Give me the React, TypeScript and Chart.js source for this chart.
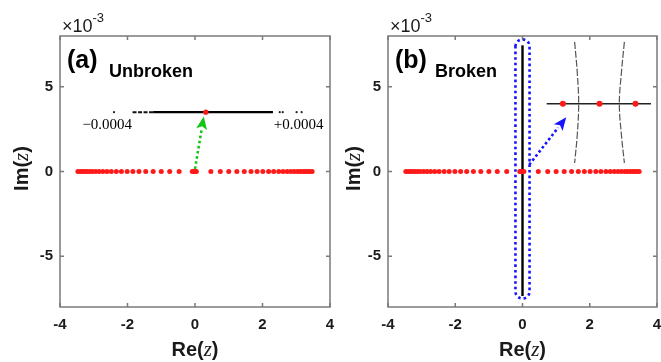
import React, { useEffect, useRef } from 'react';
import { Chart, registerables } from 'chart.js';
Chart.register(...registerables);

// ---------------- data ----------------
const xMin = -4, xMax = 4, xStep = 2;
const yMin = -8, yMax = 8, yStep = 5;

// eigenvalues on the real axis (same in both panels)
const realEigRe = [
  -3.47, -3.40, -3.34, -3.27, -3.20, -3.12, -3.04, -2.94, -2.84, -2.73, -2.61,
  -2.48, -2.33, -2.18, -2.01, -1.84, -1.66, -1.46, -1.24, -1.00, -0.75, -0.47,
  -0.08, -0.04, 0.00, 0.04,
  0.47, 0.75, 1.00, 1.24, 1.46, 1.66, 1.84, 2.01, 2.18, 2.33, 2.48, 2.61,
  2.73, 2.84, 2.94, 3.04, 3.12, 3.20, 3.27, 3.34, 3.40, 3.47,
];
const realEigIm = 0;

// panel (a) inset (zoom of the cluster at 0)
const insetAIm = 3.5;
const insetASolidRe = [-1.24, 2.31];
const insetADashRe = [-1.85, -1.24];
const insetAStrayRe = [-2.40, 2.51, 2.60, 3.01, 3.16];
const insetAMarkerRe = [0.32];
const insetALabels = ['\u22120.0004', '+0.0004'];
const insetALabelRe = [-2.6, 3.07];
const insetALabelIm = 2.72;
const arrowA = { from: [0.0, 0.15], to: [0.26, 3.25] };

// panel (b)
const brokenLineRe = [0, 0];
const brokenLineIm = [-7.35, 7.45];
const insetBIm = 4.0;
const insetBLineRe = [0.72, 3.82];
const insetBMarkerRe = [1.2, 2.29, 3.36];
const curveIm = [7.65, 5.8, 4.0, 2.2, 0.5];
const curveLeftRe = [1.55, 1.63, 1.67, 1.63, 1.55];
const curveRightRe = [3.03, 2.94, 2.88, 2.94, 3.03];
const boxRe = [-0.21, 0.21];
const boxIm = [-7.5, 7.8];
const arrowB = { from: [0.2, 0.4], to: [1.3, 3.2] };

// ---------------- helpers ----------------
const SANS = "'Liberation Sans', Arial, sans-serif";
const SERIF = "'Liberation Serif', 'Times New Roman', serif";
const TEXT = '#1a1a1a';
const FRAME = '#7a7a7a';
const RED = '#ff1a1a';

type Part = { t: string; f: string };

function drawParts(ctx: CanvasRenderingContext2D, parts: Part[], x: number, y: number, align: 'left' | 'center') {
  let total = 0;
  for (const p of parts) { ctx.font = p.f; total += ctx.measureText(p.t).width; }
  let cx = align === 'center' ? x - total / 2 : x;
  ctx.textAlign = 'left';
  for (const p of parts) {
    ctx.font = p.f;
    ctx.fillText(p.t, cx, y);
    cx += ctx.measureText(p.t).width;
  }
}

function arrow(ctx: CanvasRenderingContext2D, x0: number, y0: number, x1: number, y1: number, color: string) {
  const ang = Math.atan2(y1 - y0, x1 - x0);
  const headLen = 13, headW = 5.5;
  const bx = x1 - headLen * Math.cos(ang), by = y1 - headLen * Math.sin(ang);
  ctx.save();
  ctx.strokeStyle = color;
  ctx.lineWidth = 2.6;
  ctx.setLineDash([2.6, 2.6]);
  ctx.beginPath();
  ctx.moveTo(x0, y0);
  ctx.lineTo(bx, by);
  ctx.stroke();
  ctx.setLineDash([]);
  ctx.fillStyle = color;
  ctx.beginPath();
  ctx.moveTo(x1, y1);
  ctx.lineTo(bx + headW * Math.sin(ang), by - headW * Math.cos(ang));
  ctx.lineTo(bx + 3 * Math.cos(ang), by + 3 * Math.sin(ang));
  ctx.lineTo(bx - headW * Math.sin(ang), by + headW * Math.cos(ang));
  ctx.closePath();
  ctx.fill();
  ctx.restore();
}

type PanelCfg = {
  label: string;
  title: string;
  yTitleX: number;
  kind: 'a' | 'b';
};

function makePlugin(cfg: PanelCfg) {
  return {
    id: 'panelDecor' + cfg.kind,
    afterDatasetsDraw(chart: any) {
      const ctx: CanvasRenderingContext2D = chart.ctx;
      const xs = chart.scales.x, ys = chart.scales.y;
      const px = (v: number) => xs.getPixelForValue(v);
      const py = (v: number) => ys.getPixelForValue(v);
      ctx.save();
      if (cfg.kind === 'a') {
        ctx.fillStyle = '#000';
        ctx.font = `15px ${SERIF}`;
        ctx.textAlign = 'center';
        ctx.textBaseline = 'middle';
        insetALabels.forEach((s, i) => ctx.fillText(s, px(insetALabelRe[i]), py(insetALabelIm)));
        arrow(ctx, px(arrowA.from[0]), py(arrowA.from[1]), px(arrowA.to[0]), py(arrowA.to[1]), '#16c416');
      } else {
        // blue dotted rounded box
        const l = px(boxRe[0]), r = px(boxRe[1]);
        const t = py(boxIm[1]), b = py(boxIm[0]);
        const rad = (r - l) / 2;
        ctx.strokeStyle = '#1414ff';
        ctx.lineWidth = 2.6;
        ctx.setLineDash([2.6, 3]);
        ctx.beginPath();
        ctx.moveTo(l, t + rad);
        ctx.arc(l + rad, t + rad, rad, Math.PI, 0);
        ctx.lineTo(r, b - rad);
        ctx.arc(l + rad, b - rad, rad, 0, Math.PI);
        ctx.closePath();
        ctx.stroke();
        ctx.setLineDash([]);
        arrow(ctx, px(arrowB.from[0]), py(arrowB.from[1]), px(arrowB.to[0]), py(arrowB.to[1]), '#1414ff');
      }
      ctx.restore();
    },
    afterDraw(chart: any) {
      const ctx: CanvasRenderingContext2D = chart.ctx;
      const { left, right, top, bottom } = chart.chartArea;
      const xs = chart.scales.x, ys = chart.scales.y;
      ctx.save();
      ctx.strokeStyle = FRAME;
      ctx.lineWidth = 1.5;
      ctx.strokeRect(left, top, right - left, bottom - top);
      ctx.beginPath();
      xs.ticks.forEach((tk: any) => {
        const x = xs.getPixelForValue(tk.value);
        ctx.moveTo(x, bottom); ctx.lineTo(x, bottom - 4);
        ctx.moveTo(x, top); ctx.lineTo(x, top + 4);
      });
      ys.ticks.forEach((tk: any) => {
        const y = ys.getPixelForValue(tk.value);
        ctx.moveTo(left, y); ctx.lineTo(left + 4, y);
        ctx.moveTo(right, y); ctx.lineTo(right - 4, y);
      });
      ctx.stroke();

      ctx.fillStyle = TEXT;
      ctx.textBaseline = 'alphabetic';
      // exponent label
      ctx.textAlign = 'left';
      ctx.font = `18px ${SANS}`;
      ctx.fillText('\u00d710', left + 2, top - 4);
      const w = ctx.measureText('\u00d710').width;
      ctx.font = `13px ${SANS}`;
      ctx.fillText('-3', left + 2 + w, top - 14);

      // panel labels
      ctx.fillStyle = '#000';
      ctx.font = `bold 25px ${SANS}`;
      ctx.fillText(cfg.label, left + 7, top + 32);
      ctx.font = `bold 18px ${SANS}`;
      ctx.fillText(cfg.title, left + (cfg.kind === 'a' ? 49 : 47), top + 41);

      // axis titles
      ctx.fillStyle = TEXT;
      const cxp = (left + right) / 2;
      drawParts(ctx, [
        { t: 'Re(', f: `bold 20px ${SANS}` },
        { t: 'z', f: `italic 21px ${SERIF}` },
        { t: ')', f: `bold 20px ${SANS}` },
      ], cxp, 356, 'center');
      ctx.save();
      ctx.translate(cfg.yTitleX, (top + bottom) / 2 - 3);
      ctx.rotate(-Math.PI / 2);
      ctx.textBaseline = 'middle';
      drawParts(ctx, [
        { t: 'Im(', f: `bold 20px ${SANS}` },
        { t: 'z', f: `italic 21px ${SERIF}` },
        { t: ')', f: `bold 20px ${SANS}` },
      ], 0, 0, 'center');
      ctx.restore();
      ctx.restore();
    },
  };
}

function pts(xsArr: number[], yv: number | number[]) {
  return xsArr.map((x, i) => ({ x, y: Array.isArray(yv) ? yv[i] : yv }));
}

function buildDatasets(kind: 'a' | 'b') {
  const red = {
    data: pts(realEigRe, realEigIm),
    pointRadius: 2.5, pointBackgroundColor: RED, pointBorderWidth: 0, showLine: false, order: 0,
  };
  if (kind === 'a') {
    return [
      red,
      { data: pts(insetAMarkerRe, insetAIm), pointRadius: 2.6, pointBackgroundColor: RED, pointBorderWidth: 0, showLine: false, order: 1 },
      { data: pts(insetASolidRe, insetAIm), showLine: true, borderColor: '#000', borderWidth: 2.2, pointRadius: 0, order: 2 },
      { data: pts(insetADashRe, insetAIm), showLine: true, borderColor: '#111', borderWidth: 2, borderDash: [4, 1.5], pointRadius: 0, order: 3 },
      { data: pts(insetAStrayRe, insetAIm), showLine: false, pointRadius: 1.1, pointBackgroundColor: '#222', pointBorderWidth: 0, order: 4 },
    ];
  }
  return [
    red,
    { data: pts(insetBMarkerRe, insetBIm), pointRadius: 3, pointBackgroundColor: RED, pointBorderWidth: 0, showLine: false, order: 1 },
    { data: pts(insetBLineRe, insetBIm), showLine: true, borderColor: '#222', borderWidth: 1.5, pointRadius: 0, order: 2 },
    { data: pts(curveLeftRe, curveIm), showLine: true, borderColor: '#555', borderWidth: 1.2, borderDash: [7, 2], tension: 0.4, pointRadius: 0, order: 3 },
    { data: pts(curveRightRe, curveIm), showLine: true, borderColor: '#555', borderWidth: 1.2, borderDash: [7, 2], tension: 0.4, pointRadius: 0, order: 3 },
    { data: pts(brokenLineRe, brokenLineIm), showLine: true, borderColor: '#000', borderWidth: 2.4, pointRadius: 0, order: 5 },
  ];
}

function makeConfig(kind: 'a' | 'b', yAxisWidth: number, rightPad: number, cfg: PanelCfg) {
  const tickFont = { family: SANS, size: 15, weight: 'bold' as const };
  return {
    type: 'scatter' as const,
    data: { datasets: buildDatasets(kind) as any },
    options: {
      animation: false as const,
      responsive: false,
      maintainAspectRatio: false,
      events: [] as any,
      layout: { padding: { left: 0, right: rightPad, top: 36, bottom: 0 } },
      plugins: { legend: { display: false }, tooltip: { enabled: false } },
      scales: {
        x: {
          type: 'linear' as const, min: xMin, max: xMax,
          ticks: { stepSize: xStep, includeBounds: false, font: tickFont, color: TEXT, padding: 9, maxRotation: 0, autoSkip: false },
          grid: { display: false, drawTicks: false },
          border: { display: false },
          afterFit: (s: any) => { s.height = 55; s.paddingLeft = 0; s.paddingRight = 0; },
        },
        y: {
          type: 'linear' as const, min: yMin, max: yMax,
          ticks: { stepSize: yStep, includeBounds: false, font: tickFont, color: TEXT, padding: 7, autoSkip: false },
          grid: { display: false, drawTicks: false },
          border: { display: false },
          afterFit: (s: any) => { s.width = yAxisWidth; s.paddingTop = 0; s.paddingBottom = 0; },
        },
      },
    },
    plugins: [makePlugin(cfg)],
  };
}

function Panel(props: { kind: 'a' | 'b'; left: number; width: number; yAxisWidth: number; rightPad: number; cfg: PanelCfg }) {
  const ref = useRef<HTMLCanvasElement | null>(null);
  useEffect(() => {
    if (!ref.current) return;
    const chart = new Chart(ref.current, makeConfig(props.kind, props.yAxisWidth, props.rightPad, props.cfg) as any);
    return () => chart.destroy();
  }, []);
  return (
    <canvas
      ref={ref}
      width={props.width}
      height={362}
      style={{ position: 'absolute', left: props.left, top: 0, width: props.width, height: 362 }}
    />
  );
}

export default function App() {
  useEffect(() => { document.body.style.margin = '0'; }, []);
  return (
    <div style={{ position: 'absolute', left: 0, top: 0, width: 661, height: 362, background: '#fff', overflow: 'hidden' }}>
      <Panel kind="a" left={0} width={345} yAxisWidth={60} rightPad={15}
        cfg={{ label: '(a)', title: 'Unbroken', yTitleX: 22, kind: 'a' }} />
      <Panel kind="b" left={335} width={326} yAxisWidth={53} rightPad={3}
        cfg={{ label: '(b)', title: 'Broken', yTitleX: 19, kind: 'b' }} />
    </div>
  );
}
